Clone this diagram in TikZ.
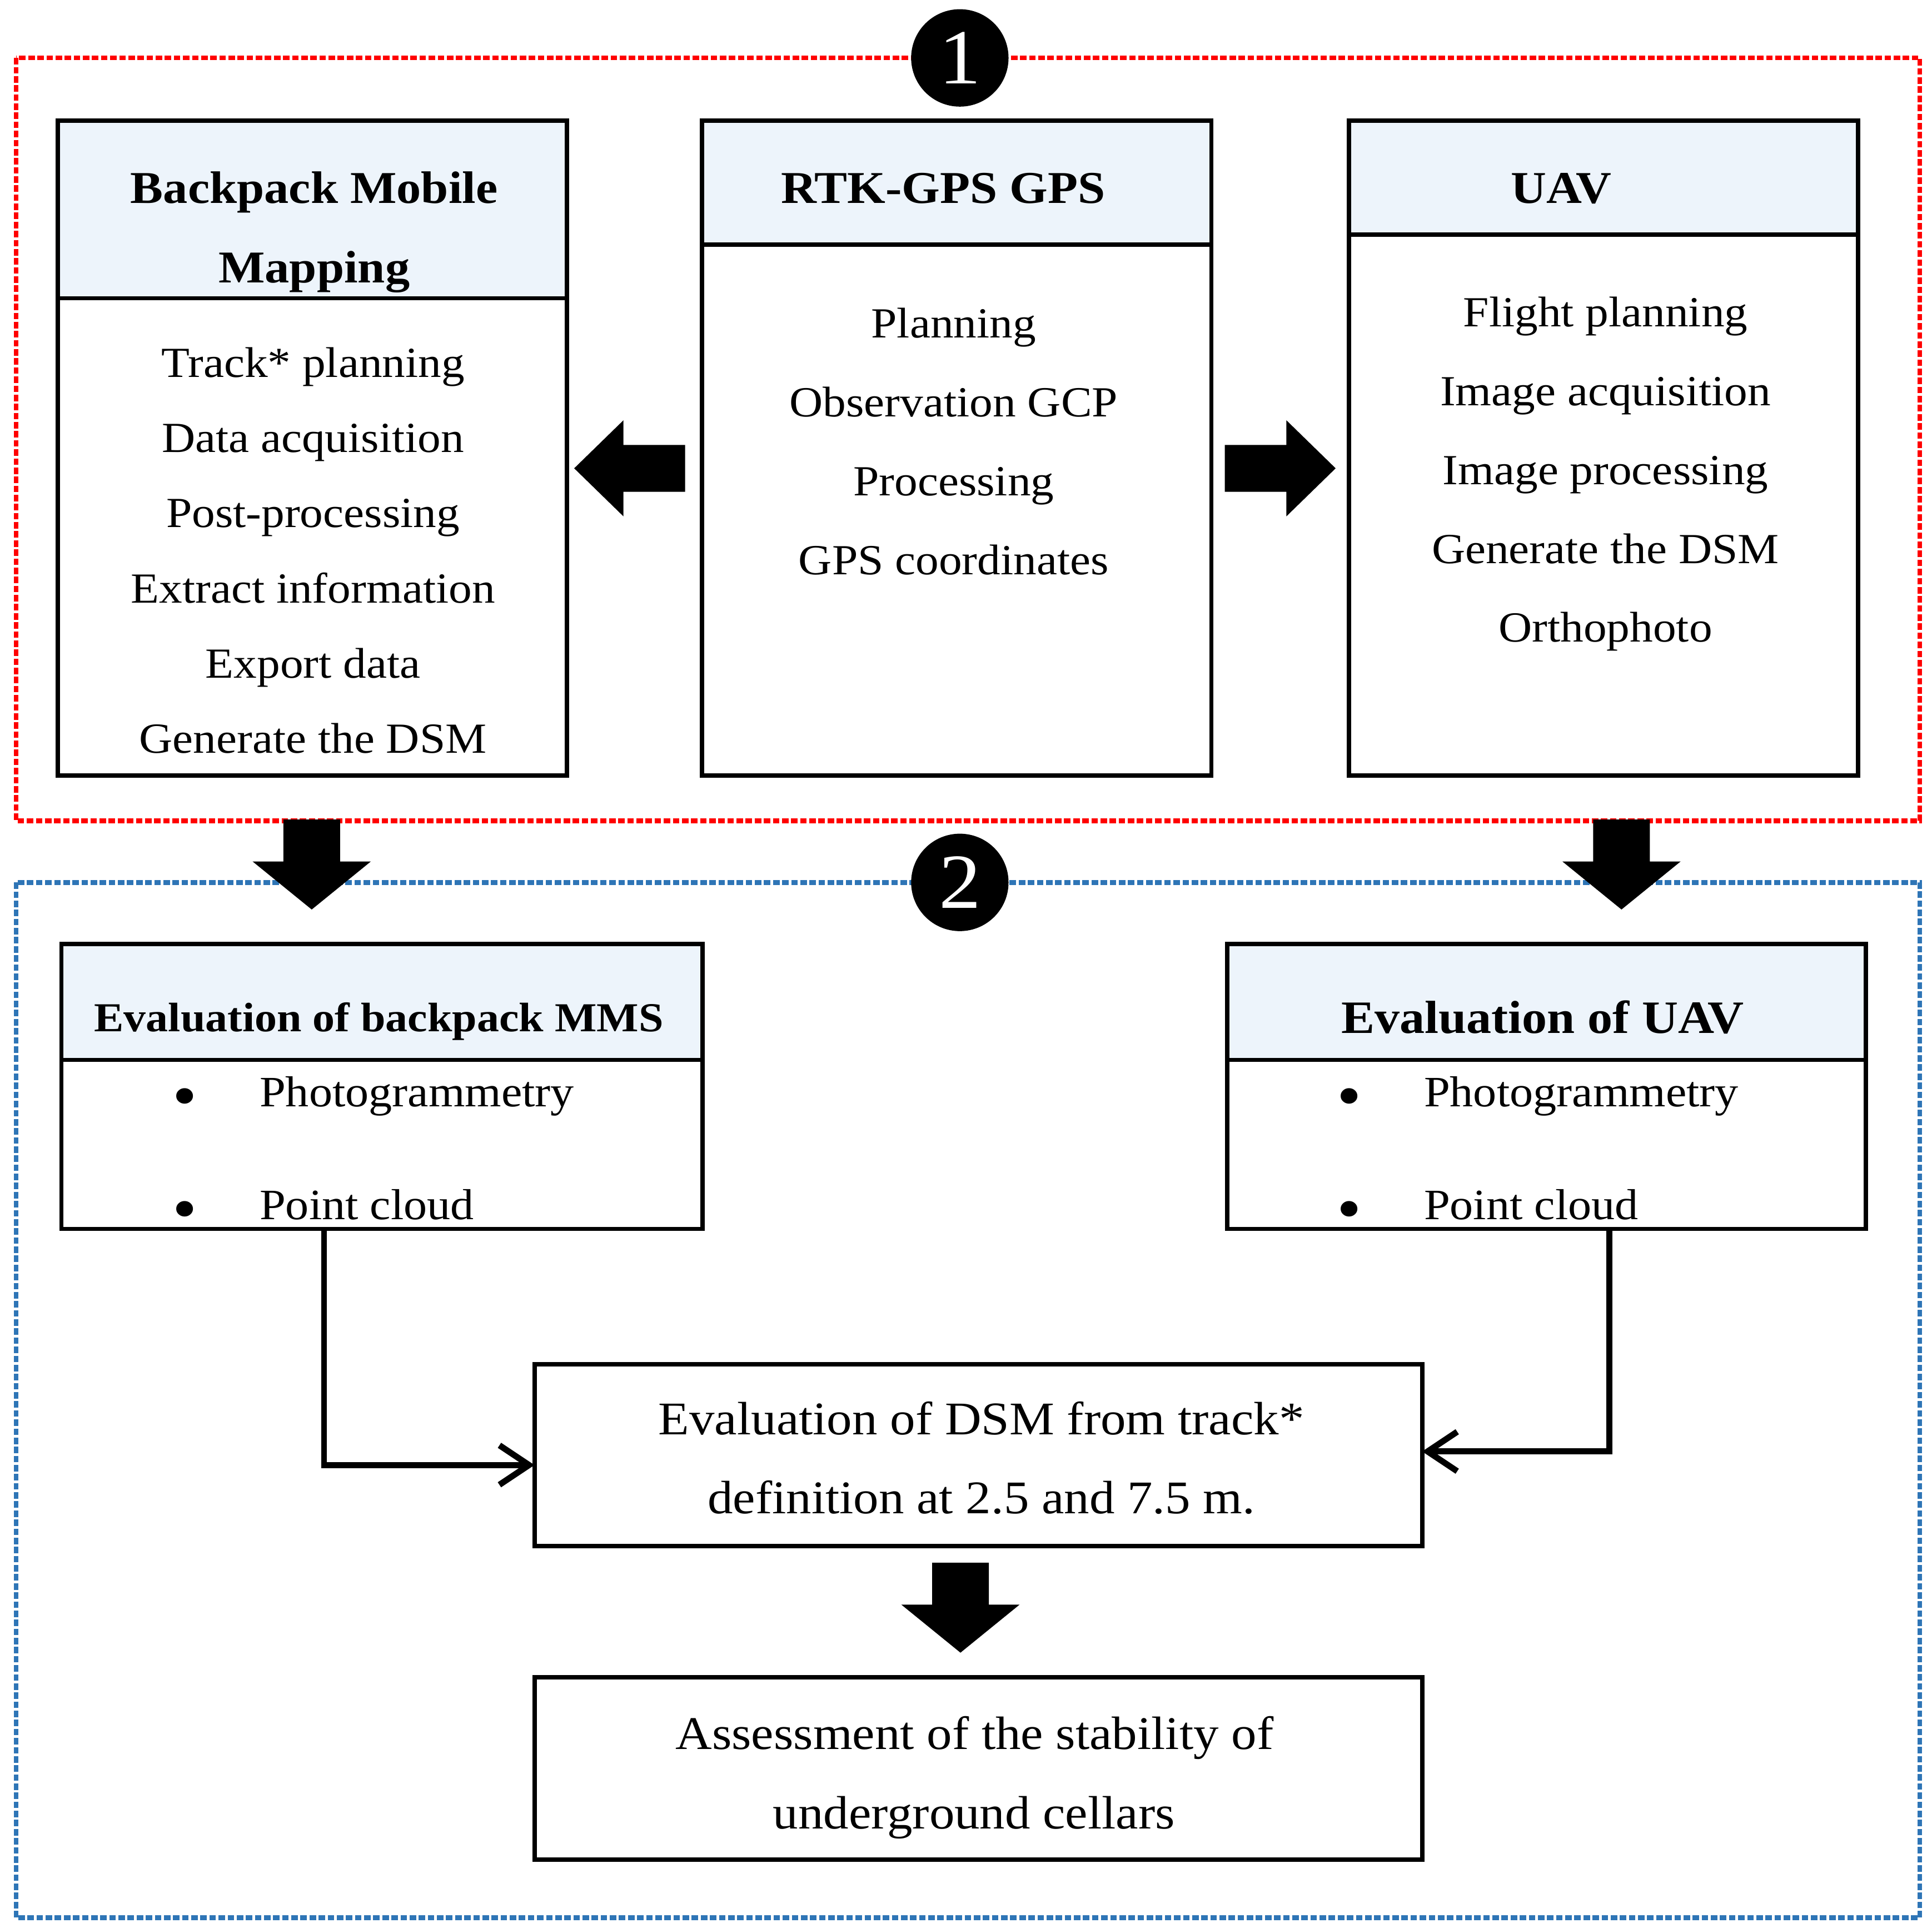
\documentclass[tikz,border=0pt]{standalone}
\usepackage{fontspec}
\setmainfont{Liberation Serif}[FakeStretch=1.08]
\usepackage{tikz}
\usetikzlibrary{positioning, arrows.meta}
\definecolor{headblue}{RGB}{237,244,251}
\definecolor{framered}{RGB}{255,0,0}
\definecolor{frameblue}{RGB}{46,117,182}

\tikzset{
  panel/.style={draw, line width=1pt, fill=white, inner sep=0pt, outer sep=0pt},
  headpanel/.style={panel, fill=headblue},
  stage/.style={circle, fill=black, inner sep=0pt, minimum size=0.79cm, text=white, font=\fontsize{18}{18}\selectfont},
  frame/.style={line width=1.1pt, dash pattern=on 1.5pt off 0.6pt},
  flow/.style={line width=1.4pt, -{Straight Barb[length=2.4mm, width=3.2mm]}},
  title/.style={anchor=base, font=\bfseries\fontsize{10.5}{12}\selectfont},
  item/.style={anchor=base, inner sep=0pt, font=\fontsize{9.9}{12}\selectfont},
  bigitem/.style={anchor=base, font=\fontsize{10.8}{13}\selectfont},
  dot/.style={inner sep=0pt, font=\fontsize{15}{15}\selectfont},
  pics/blockdown/.style={code={\fill (-23,0) -- (23,0) -- (23,34) -- (48,34) -- (0,73) -- (-48,34) -- (-23,34) -- cycle;}},
  pics/blockright/.style={code={\fill (0,-19) -- (50,-19) -- (50,-39) -- (90,0) -- (50,39) -- (50,19) -- (0,19) -- cycle;}}
}

\begin{document}
\begin{tikzpicture}[x=0.01cm, y=-0.01cm]
  \useasboundingbox (0,0) rectangle (1568,1564);

  % Dotted frames of the two stages
  \draw[frame, framered] (13,47) rectangle (1558,666);
  \draw[frame, frameblue] (13,716) rectangle (1558,1556);
  \node[stage] (stage1) at (779,47) {1};
  \node[stage] (stage2) at (779,716) {2};

  % Stage 1 panels
  \node[headpanel, minimum width=4.13cm, minimum height=1.44cm] (bmmhead) at (253.5,170) {};
  \node[panel, minimum width=4.13cm, minimum height=3.87cm, below=0pt of bmmhead] (bmmbody) {};
  \node[headpanel, minimum width=4.13cm, minimum height=1.005cm] (gpshead) at (776.5,148.25) {};
  \node[panel, minimum width=4.13cm, minimum height=4.305cm, below=0pt of gpshead] (gpsbody) {};
  \node[headpanel, minimum width=4.13cm, minimum height=0.925cm] (uavhead) at (1301.5,144.25) {};
  \node[panel, minimum width=4.13cm, minimum height=4.385cm, below=0pt of uavhead] (uavbody) {};

  \node[title] (bmmtitle) at (255,165) {Backpack Mobile};
  \node[title] (bmmtitle2) at (255,229.5) {Mapping};
  \node[title] (gpstitle) at (765.5,165) {RTK-GPS GPS};
  \node[title] (uavtitle) at (1267,165) {UAV};

  \foreach \y/\txt in {306/{Track* planning}, 367/{Data acquisition}, 428/{Post-processing},
    489/{Extract information}, 550/{Export data}, 611/{Generate the DSM}} {
    \node[item] at (254,\y) {\txt};
  }
  \foreach \y/\txt in {274/{Planning}, 338/{Observation GCP}, 402/{Processing}, 466/{GPS coordinates}} {
    \node[item] at (774,\y) {\txt};
  }
  \foreach \y/\txt in {265/{Flight planning}, 329/{Image acquisition}, 393/{Image processing},
    457/{Generate the DSM}, 521/{Orthophoto}} {
    \node[item] at (1303,\y) {\txt};
  }

  % Block arrows
  \pic[xscale=-1] at (556,380) {blockright};
  \pic at (994,380) {blockright};
  \pic at (253,665) {blockdown};
  \pic at (1316,665) {blockdown};

  % Stage 2 panels
  \node[headpanel, minimum width=5.2cm, minimum height=0.94cm] (evbmmhead) at (310,813) {};
  \node[panel, minimum width=5.2cm, minimum height=1.37cm, below=0pt of evbmmhead] (evbmmbody) {};
  \node[headpanel, minimum width=5.18cm, minimum height=0.94cm] (evuavhead) at (1255,813) {};
  \node[panel, minimum width=5.18cm, minimum height=1.37cm, below=0pt of evuavhead] (evuavbody) {};

  \node[title, font=\bfseries\fontsize{9.5}{12}\selectfont] (evbmmtitle) at (307.5,837) {Evaluation of backpack MMS};
  \node[title, font=\bfseries\fontsize{10.7}{12}\selectfont] (evuavtitle) at (1252,838.5) {Evaluation of UAV};

  \foreach \x/\y in {150/895, 150/986.5, 1095/895, 1095/986.5} {
    \node[dot] at (\x,\y) {\textbullet};
  }
  \foreach \x/\y/\txt in {210/898/{Photogrammetry}, 210/989.5/{Point cloud}, 1155/898/{Photogrammetry}, 1155/989.5/{Point cloud}} {
    \node[item, anchor=base west, font=\fontsize{10}{12}\selectfont] at (\x,\y) {\txt};
  }

  \node[panel, minimum width=7.2cm, minimum height=1.475cm] (dsm) at (794,1180.75) {};
  \node[bigitem] at (796.5,1164) {Evaluation of DSM from track*};
  \node[bigitem] at (796.5,1228) {definition at 2.5 and 7.5 m.};

  \pic at (779.5,1268) {blockdown};

  \node[panel, minimum width=7.2cm, minimum height=1.48cm] (cellars) at (794,1435) {};
  \node[bigitem] at (791,1419.5) {Assessment of the stability of};
  \node[bigitem] at (790.5,1484) {underground cellars};

  % Connectors into the DSM evaluation
  \draw[flow] ([xshift=-0.47cm]evbmmbody.south) |- ([yshift=-0.08cm]dsm.west);
  \draw[flow] ([xshift=0.51cm]evuavbody.south) |- ([yshift=0.03cm]dsm.east);
\end{tikzpicture}
\end{document}
